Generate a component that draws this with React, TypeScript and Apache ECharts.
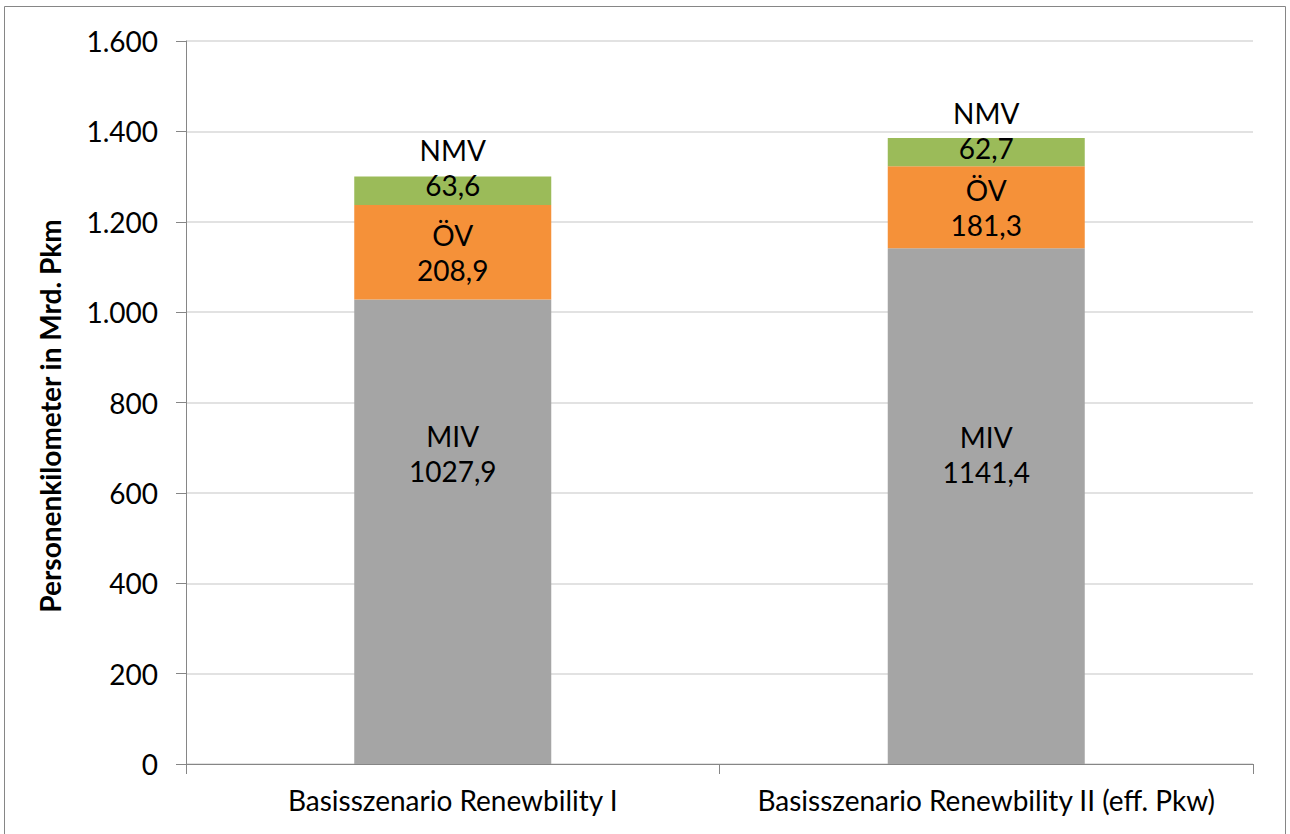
import React, { useEffect, useRef } from "react";
import * as echarts from "echarts";

const categories = ["Basisszenario Renewbility I", "Basisszenario Renewbility II (eff. Pkw)"];
const seriesNames = ["MIV", "ÖV", "NMV"];
const mivValues = [1027.9, 1141.4];
const oevValues = [208.9, 181.3];
const nmvValues = [63.6, 62.7];
const yTicks = [0, 200, 400, 600, 800, 1000, 1200, 1400, 1600];
const yAxisTitle = "Personenkilometer in Mrd. Pkm";

const colors = ["#A5A5A5", "#F59139", "#9BBB59"];
const FONT = "Lato, 'Open Sans', sans-serif";

const fmtDec = (v: number) => v.toFixed(1).replace(".", ",");
const fmtThousand = (v: number) => String(v).replace(/\B(?=(\d{3})+(?!\d))/g, ".");

export default function App() {
  const ref = useRef<HTMLDivElement>(null);
  useEffect(() => {
    if (!ref.current) return;
    const chart = echarts.init(ref.current, null, { renderer: "svg" });
    const labelBase = {
      show: true,
      position: "inside" as const,
      fontFamily: FONT,
      fontSize: 28,
      lineHeight: 35,
      color: "#000",
      formatter: (p: any) => `${p.seriesName}\n${fmtDec(p.value)}`,
    };
    const mk = (name: string, vals: number[], color: string, offsets: number[]) => ({
      name,
      type: "bar",
      stack: "total",
      barWidth: 197,
      itemStyle: { color },
      label: labelBase,
      data: vals.map((v, i) => ({ value: v, label: { offset: [0, offsets[i]] } })),
    });
    chart.setOption({
      animation: false,
      backgroundColor: "#fff",
      graphic: [
        {
          type: "rect",
          shape: { x: 4.5, y: 6.5, width: 1281, height: 900 },
          style: { fill: "none", stroke: "#868686", lineWidth: 1 },
          silent: true,
        },
        {
          type: "text",
          x: 50,
          y: 416,
          rotation: Math.PI / 2,
          style: {
            text: yAxisTitle,
            fontFamily: FONT,
            fontSize: 28,
            fontWeight: "bold",
            fill: "#000",
            align: "center",
            verticalAlign: "middle",
          },
          silent: true,
        },
      ],
      grid: { left: 186, right: 37, top: 41, bottom: 70, containLabel: false },
      xAxis: {
        type: "category",
        data: categories,
        axisLine: { lineStyle: { color: "#868686", width: 1 } },
        axisTick: { show: true, length: 10, lineStyle: { color: "#868686" } },
        axisLabel: { interval: 0, hideOverlap: false, fontFamily: FONT, fontSize: 28, color: "#000", margin: 22 },
      },
      yAxis: {
        type: "value",
        min: 0,
        max: 1600,
        interval: 200,
        axisLine: { show: true, lineStyle: { color: "#868686", width: 1 } },
        axisTick: { show: true, length: 10, lineStyle: { color: "#868686" } },
        splitLine: { lineStyle: { color: "#D9D9D9", width: 1.5 } },
        axisLabel: {
          fontFamily: FONT,
          fontSize: 28,
          color: "#000",
          margin: 28,
          formatter: (v: number) => (yTicks.includes(v) ? fmtThousand(v) : ""),
        },
      },
      series: [
        mk(seriesNames[0], mivValues, colors[0], [-78, -52]),
        mk(seriesNames[1], oevValues, colors[1], [0, 0]),
        mk(seriesNames[2], nmvValues, colors[2], [-23, -22]),
      ],
    });
    return () => chart.dispose();
  }, []);
  return (
    <div
      ref={ref}
      style={{ position: "fixed", left: 0, top: 0, width: 1290, height: 834, background: "#fff" }}
    />
  );
}
